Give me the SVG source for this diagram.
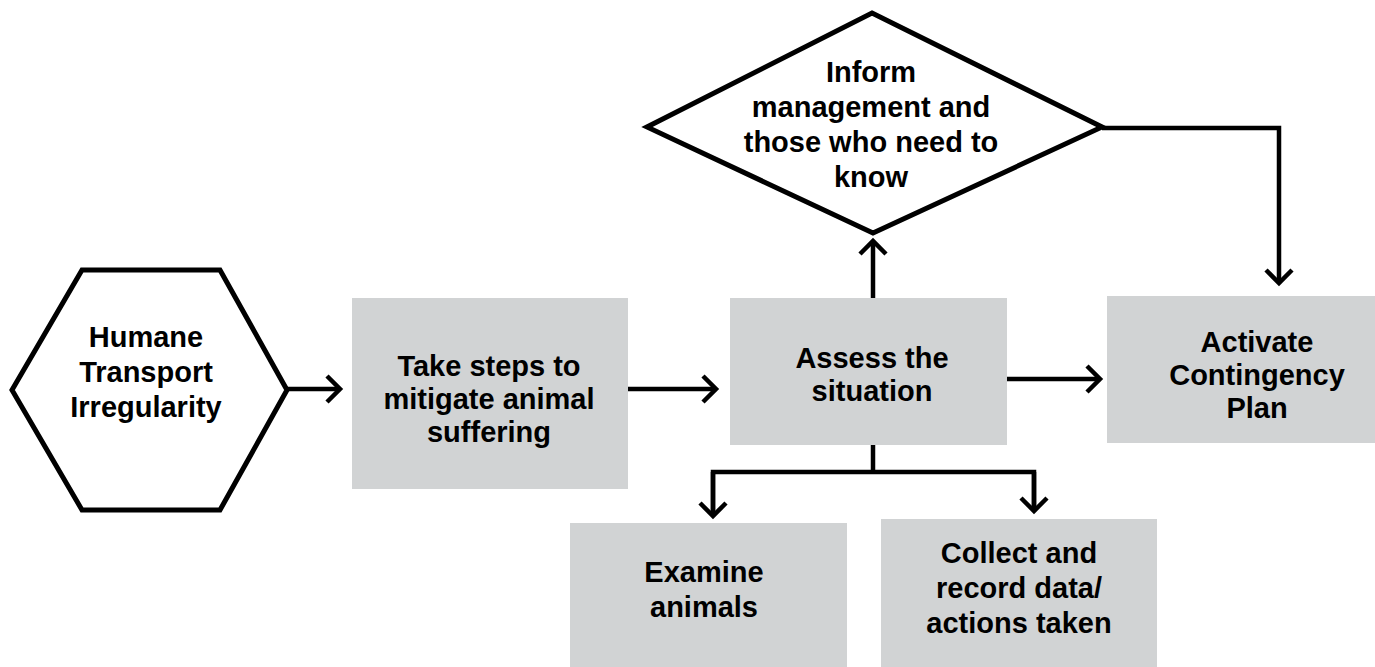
<svg xmlns="http://www.w3.org/2000/svg" width="1375" height="667" viewBox="0 0 1375 667">
<style>
.box{fill:#d1d3d4;stroke:none}
.shape{fill:#fff;stroke:#000;stroke-width:5;stroke-linejoin:miter}
.t{font-family:"Liberation Sans",Arial,Helvetica,sans-serif;font-weight:bold;font-size:29px;fill:#000;text-anchor:middle}
.c{fill:none;stroke:#000;stroke-width:4.5;stroke-linejoin:miter}
</style>
<defs>
<marker id="ah" markerUnits="userSpaceOnUse" markerWidth="32" markerHeight="32" viewBox="0 0 32 32" refX="28" refY="16" orient="auto">
<path d="M15,3 L28,16 L15,29" fill="none" stroke="#000" stroke-width="4.5"/>
</marker>
</defs>
<rect width="1375" height="667" fill="#fff"/>
<g id="n-hex">
<polygon class="shape" points="82,270 220,270 287,390 220,510 82,510 12,390"/>
<text class="t" x="146" y="347">Humane</text>
<text class="t" x="146" y="382">Transport</text>
<text class="t" x="146" y="417">Irregularity</text>
</g>
<g id="n-take">
<rect class="box" x="352" y="298" width="276" height="191"/>
<text class="t" x="489" y="376">Take steps to</text>
<text class="t" x="489" y="409">mitigate animal</text>
<text class="t" x="489" y="442">suffering</text>
</g>
<g id="n-assess">
<rect class="box" x="730" y="298" width="277" height="147"/>
<text class="t" x="872" y="368">Assess the</text>
<text class="t" x="872" y="401">situation</text>
</g>
<g id="n-inform">
<polygon class="shape" points="872,13 1102,127 873,233 647,127"/>
<text class="t" x="871" y="82">Inform</text>
<text class="t" x="871" y="117">management and</text>
<text class="t" x="871" y="152">those who need to</text>
<text class="t" x="871" y="187">know</text>
</g>
<g id="n-activate">
<rect class="box" x="1107" y="296" width="268" height="147"/>
<text class="t" x="1257" y="352">Activate</text>
<text class="t" x="1257" y="385">Contingency</text>
<text class="t" x="1257" y="418">Plan</text>
</g>
<g id="n-examine">
<rect class="box" x="570" y="523" width="277" height="144"/>
<text class="t" x="704" y="582">Examine</text>
<text class="t" x="704" y="617">animals</text>
</g>
<g id="n-collect">
<rect class="box" x="881" y="519" width="276" height="148"/>
<text class="t" x="1019" y="563">Collect and</text>
<text class="t" x="1019" y="598">record data/</text>
<text class="t" x="1019" y="633">actions taken</text>
</g>
<g id="connectors">
<path class="c" d="M287,389 H340" marker-end="url(#ah)"/>
<path class="c" d="M628,389 H716" marker-end="url(#ah)"/>
<path class="c" d="M1007,379 H1100" marker-end="url(#ah)"/>
<path class="c" d="M873,298 V241" marker-end="url(#ah)"/>
<path class="c" d="M1102,128 H1279 V283" marker-end="url(#ah)"/>
<path class="c" d="M873,445 V472"/>
<path class="c" d="M713,516 V472 H1034 V511"/>
<path class="c" d="M713,472 V516" marker-end="url(#ah)"/>
<path class="c" d="M1034,472 V511" marker-end="url(#ah)"/>
</g>
</svg>
